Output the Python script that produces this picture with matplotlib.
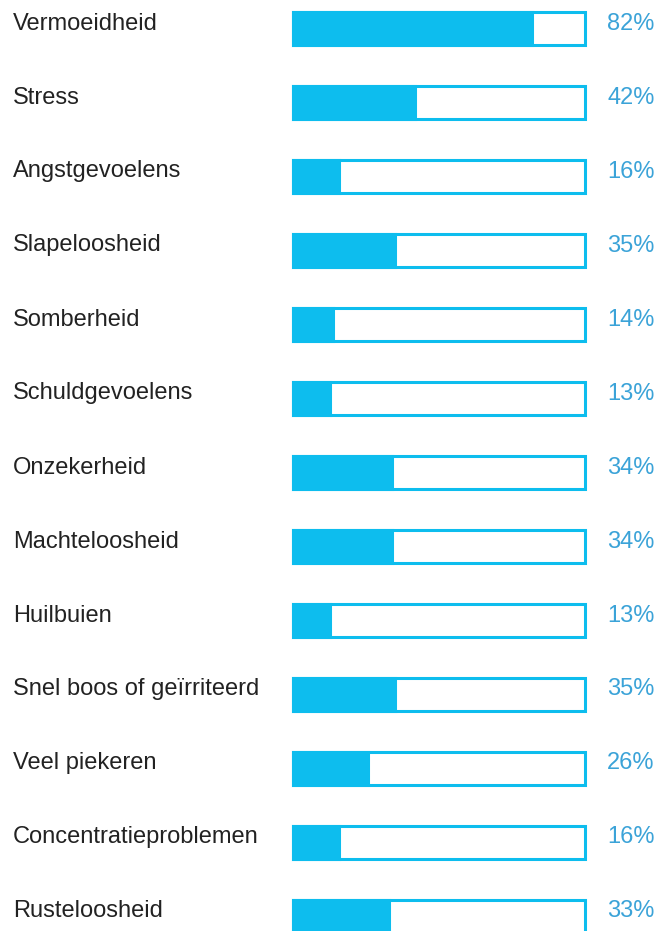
import numpy as np
import matplotlib.pyplot as plt
import matplotlib.transforms as mtransforms

labels = ["Vermoeidheid", "Stress", "Angstgevoelens", "Slapeloosheid", "Somberheid",
          "Schuldgevoelens", "Onzekerheid", "Machteloosheid", "Huilbuien",
          "Snel boos of geïrriteerd", "Veel piekeren", "Concentratieproblemen",
          "Rusteloosheid"]
values = [82, 42, 16, 35, 14, 13, 34, 34, 13, 35, 26, 16, 33]

W, H = 659, 931
bar_color = "#0dbdee"
pct_color = "#3ba3d8"
text_color = "#222222"

plt.rcParams["font.family"] = ["Liberation Sans", "DejaVu Sans"]

fig = plt.figure(figsize=(W / 100, H / 100), dpi=100)
# bar area in pixels: x 292..584, row centre 28 + 74*i
ax = fig.add_axes([292.5 / W, 0, 292 / W, 1])
ax.set_xlim(0, 100)
y0, pitch = 28.5, 74.0
ax.set_ylim((H - y0) / pitch, -y0 / pitch)
ax.axis("off")

y = np.arange(len(labels))
h = 33 / pitch
ax.barh(y, [100] * len(y), height=h, color="white", edgecolor=bar_color,
        linewidth=2.2, clip_on=False)
ax.barh(y, values, height=h, color=bar_color, edgecolor=bar_color,
        linewidth=2.2, clip_on=False)

trans = mtransforms.blended_transform_factory(fig.transFigure, ax.transData)
off = 5 / pitch
for i, (lab, v) in enumerate(zip(labels, values)):
    ax.text(13 / W, i - off, lab, transform=trans, ha="left", va="center",
            fontsize=17, color=text_color, clip_on=False)
    ax.text(607 / W, i - off, f"{v}%", transform=trans, ha="left", va="center",
            fontsize=17, color=pct_color, clip_on=False)

fig.savefig("out.png", dpi=100)
